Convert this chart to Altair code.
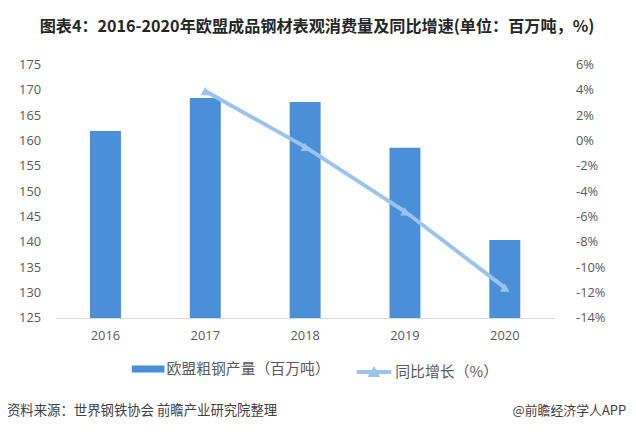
import altair as alt
import pandas as pd

years = ["2016", "2017", "2018", "2019", "2020"]
output = [161.9, 168.4, 167.6, 158.6, 140.4]
growth = [None, 3.9, -0.5, -5.6, -11.6]

left_ticks = [125, 130, 135, 140, 145, 150, 155, 160, 165, 170, 175]
right_ticks = [-14, -12, -10, -8, -6, -4, -2, 0, 2, 4, 6]

bar_name = "欧盟粗钢产量（百万吨）"
line_name = "同比增长（%）"
title_text = "图表4：2016-2020年欧盟成品钢材表观消费量及同比增速(单位：百万吨，%)"
source_text = "资料来源：世界钢铁协会 前瞻产业研究院整理"
brand_text = "@前瞻经济学人APP"

BAR = "#4A90D9"
LINE = "#9CC3EE"
FONT = "Noto Sans CJK SC"
NUM_FONT = "Open Sans"

df = pd.DataFrame({"year": years, "output": output, "growth": growth})
df["s_bar"] = bar_name
df["s_line"] = line_name
df_line = df.dropna()

x_enc = alt.X(
    "year:N",
    sort=years,
    scale=alt.Scale(paddingInner=0.69, paddingOuter=0.345),
    axis=alt.Axis(
        title=None, labelAngle=0, ticks=False, domainColor="#D9D9D9",
        labelColor="#595959", labelFont=NUM_FONT, labelFontSize=13,
        labelPadding=12, grid=False,
    ),
)

bars = alt.Chart(df).mark_bar(color=BAR, clip=True).encode(
    x=x_enc,
    y=alt.Y(
        "output:Q",
        scale=alt.Scale(domain=[125, 175], nice=False, zero=False),
        axis=alt.Axis(
            title=None, values=left_ticks, domain=False, ticks=False, grid=False,
            labelColor="#595959", labelFont=NUM_FONT, labelFontSize=13, labelPadding=15,
        ),
    ),
    fill=alt.Fill(
        "s_bar:N",
        scale=alt.Scale(range=[BAR]),
        legend=alt.Legend(
            title=None, orient="none", legendX=77, legendY=291,
            symbolType="M-1,-0.21L1,-0.21L1,0.21L-1,0.21Z", symbolSize=1089,
            symbolStrokeWidth=0, labelFont=FONT, labelFontSize=15,
            labelColor="#595959", labelOffset=2, labelLimit=400,
        ),
    ),
)

y_right = alt.Y(
    "growth:Q",
    scale=alt.Scale(domain=[-14, 6], nice=False, zero=False),
    axis=alt.Axis(
        title=None, orient="right", values=right_ticks, domain=False, ticks=False,
        grid=False, labelColor="#595959", labelFont=NUM_FONT, labelFontSize=13,
        labelPadding=21, labelExpr="datum.value + '%'",
    ),
)

line = alt.Chart(df_line).mark_line(strokeWidth=4).encode(
    x=alt.X("year:N", sort=years),
    y=y_right,
    stroke=alt.Stroke(
        "s_line:N",
        scale=alt.Scale(range=[LINE]),
        legend=alt.Legend(
            title=None, orient="none", legendX=302, legendY=291,
            symbolType="M-1,0L1,0M-0.17,0.17L0,-0.12L0.17,0.17Z", symbolSize=1225,
            symbolStrokeWidth=4, symbolFillColor=LINE, labelFont=FONT,
            labelFontSize=15, labelColor="#595959", labelOffset=2, labelLimit=400,
        ),
    ),
)

points = alt.Chart(df_line).mark_point(
    shape="triangle-up", filled=True, size=90, color=LINE, opacity=1
).encode(
    x=alt.X("year:N", sort=years),
    y=y_right,
)

foot = pd.DataFrame({"t": [source_text]})
src = alt.Chart(foot).mark_text(
    align="left", baseline="middle", font=FONT, fontSize=13.5, color="#404040"
).encode(text="t:N", x=alt.value(-49), y=alt.value(350))

foot2 = pd.DataFrame({"t": [brand_text]})
brand = alt.Chart(foot2).mark_text(
    align="right", baseline="middle", font=FONT, fontSize=13, color="#404040"
).encode(text="t:N", x=alt.value(576), y=alt.value(350))

chart = alt.layer(
    bars, alt.layer(line, points), src, brand
).resolve_scale(
    y="independent", fill="independent", stroke="independent"
).properties(
    width=504,
    height=256,
    background="white",
    autosize=alt.AutoSizeParams(type="none"),
    padding={"left": 48, "top": 55, "right": 74, "bottom": 108},
    title=alt.TitleParams(
        title_text, font=FONT, fontSize=16.3, fontWeight="bold", color="#262626",
        anchor="middle", dx=12, offset=24,
    ),
).configure_view(stroke=None)

chart.save("out.html", embed_options={"renderer": "svg", "actions": False})
